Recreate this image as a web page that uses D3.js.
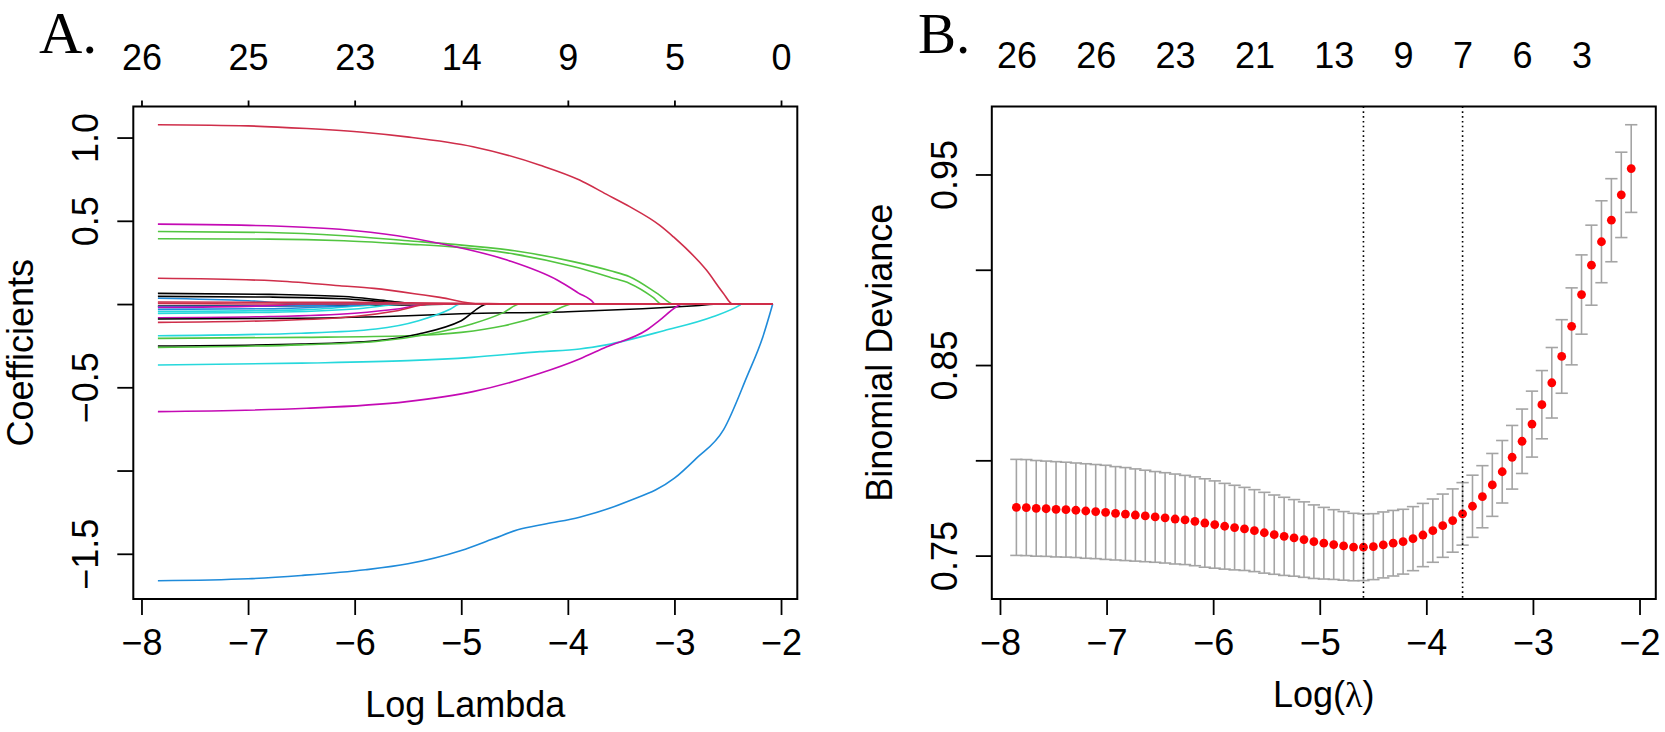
<!DOCTYPE html>
<html>
<head>
<meta charset="utf-8">
<script src="https://cdn.jsdelivr.net/npm/d3@7"></script>
<style>
  body { margin: 0; background: #fff; }
  svg { display: block; }
  text { font-family: "Liberation Sans", Arial, Helvetica, sans-serif; fill: #000; }
</style>
</head>
<body>
<div id="chart"></div>
<script>
// ---- Panel A: lasso coefficient paths, [log lambda, coefficient] ----
const pathRedTop   = [[-7.846,1.077],[-7.0,1.07],[-6.45,1.054],[-5.9,1.03],[-5.51,1.004],[-4.89,0.945],[-4.26,0.834],[-3.89,0.745],[-3.64,0.66],[-3.42,0.585],[-3.14,0.474],[-3.01,0.404],[-2.70,0.204],[-2.54,0.064],[-2.455,0],[-2.078,0]];
const pathMagTop   = [[-7.846,0.48],[-7.07,0.474],[-6.14,0.449],[-5.6,0.41],[-5.2,0.364],[-4.57,0.264],[-4.10,0.144],[-3.90,0.066],[-3.76,0.008],[-3.75,0],[-2.078,0]];
const pathGreen1   = [[-7.846,0.436],[-6.8,0.43],[-6.1,0.41],[-5.5,0.38],[-5.1,0.36],[-4.5,0.32],[-3.95,0.255],[-3.6,0.2],[-3.42,0.164],[-3.14,0.054],[-3.01,0],[-2.078,0]];
const pathGreen2   = [[-7.846,0.392],[-6.8,0.39],[-6.1,0.38],[-5.5,0.36],[-5.1,0.345],[-4.5,0.30],[-3.95,0.225],[-3.6,0.16],[-3.42,0.124],[-3.2,0.04],[-3.12,0],[-2.078,0]];
const pathRed2     = [[-7.846,0.155],[-6.76,0.14],[-6.14,0.11],[-5.82,0.094],[-5.35,0.054],[-5.2,0.04],[-4.82,0],[-2.078,0]];
const pathBlackA   = [[-7.846,0.064],[-6.8,0.058],[-6.1,0.045],[-5.7,0.02],[-5.35,0],[-2.078,0]];
const pathBlackB   = [[-7.846,0.046],[-6.8,0.042],[-6.1,0.032],[-5.7,0.012],[-5.4,0],[-2.078,0]];
const pathBlueS1   = [[-7.846,0.035],[-7.0,0.02],[-6.45,0],[-2.078,0]];
const pathRedZero  = [[-7.846,0.004],[-7.05,0],[-2.078,0]];
const pathBlueS2   = [[-7.846,-0.032],[-6.8,-0.028],[-6.2,-0.015],[-5.7,0],[-2.078,0]];
const pathCyanS1   = [[-7.846,-0.056],[-6.8,-0.05],[-6.0,-0.03],[-5.5,0],[-2.078,0]];
const pathMagS1    = [[-7.846,-0.082],[-6.8,-0.075],[-6.0,-0.055],[-5.6,-0.03],[-5.29,0],[-2.078,0]];
const pathBlackL   = [[-7.846,-0.09],[-6.5,-0.085],[-5.5,-0.07],[-5.0,-0.058],[-4.0,-0.046],[-3.3,-0.028],[-2.8,-0.01],[-2.57,0],[-2.078,0]];
const pathRedS1    = [[-7.846,-0.11],[-6.8,-0.10],[-6.0,-0.075],[-5.6,-0.04],[-5.29,0],[-2.078,0]];
const pathCyanM    = [[-7.846,-0.19],[-6.5,-0.175],[-5.8,-0.15],[-5.4,-0.1],[-5.1,-0.03],[-5.01,0],[-2.078,0]];
const pathGreen3   = [[-7.846,-0.206],[-6.5,-0.20],[-5.5,-0.19],[-5.0,-0.17],[-4.6,-0.13],[-4.2,-0.06],[-3.95,0],[-2.078,0]];
const pathBlackM   = [[-7.846,-0.252],[-6.5,-0.24],[-5.8,-0.22],[-5.4,-0.18],[-5.0,-0.10],[-4.75,0],[-2.078,0]];
const pathGreen4   = [[-7.846,-0.26],[-6.5,-0.245],[-5.8,-0.225],[-5.3,-0.18],[-4.9,-0.12],[-4.6,-0.05],[-4.45,0],[-2.078,0]];
const pathCyanL    = [[-7.846,-0.366],[-6.5,-0.355],[-5.5,-0.34],[-4.9,-0.32],[-4.26,-0.286],[-3.89,-0.27],[-3.64,-0.245],[-3.1,-0.16],[-2.64,-0.076],[-2.39,-0.008],[-2.37,0],[-2.078,0]];
const pathMagBig   = [[-7.846,-0.646],[-6.45,-0.626],[-5.51,-0.586],[-4.89,-0.526],[-4.26,-0.416],[-3.89,-0.33],[-3.64,-0.258],[-3.26,-0.156],[-3.14,-0.098],[-2.98,-0.016],[-2.93,0],[-2.078,0]];
const pathBlueBig  = [[-7.846,-1.662],[-7.0,-1.65],[-6.5,-1.63],[-5.9,-1.596],[-5.5,-1.56],[-5.0,-1.48],[-4.7,-1.41],[-4.47,-1.356],[-4.2,-1.32],[-3.89,-1.28],[-3.44,-1.186],[-3.0,-1.046],[-2.8,-0.93],[-2.54,-0.756],[-2.32,-0.436],[-2.17,-0.196],[-2.078,0]];
const pathBlackS   = [[-7.846,-0.012],[-6.5,-0.01],[-5.5,-0.005],[-4.9,0],[-2.078,0]];
const pathRedS2    = [[-7.846,0.012],[-6.0,0.01],[-5.0,0.005],[-4.3,0],[-2.078,0]];
const pathBlueS3   = [[-7.846,-0.015],[-6.5,-0.01],[-5.8,0],[-2.078,0]];
const pathCyanS2   = [[-7.846,-0.045],[-6.5,-0.035],[-5.6,0],[-2.078,0]];
const pathMagS2    = [[-7.846,-0.02],[-6.9,-0.012],[-6.4,0],[-2.078,0]];

const coefPaths = [pathBlackS, pathBlueS3, pathCyanS2, pathMagS2, pathBlackA, pathBlackB, pathBlueS1,
  pathBlueS2, pathCyanS1, pathMagS1, pathBlackL, pathRedS1, pathCyanM, pathGreen3, pathBlackM, pathGreen4,
  pathCyanL, pathMagBig, pathBlueBig, pathGreen1, pathGreen2, pathMagTop, pathRed2, pathRedS2, pathRedTop, pathRedZero];
const coefColorKeys = ["black","blue","cyan","magenta","black","black","blue",
  "blue","cyan","magenta","black","red","cyan","green","black","green",
  "cyan","magenta","blue","green","green","magenta","red","red","red","red"];

const coefXTicks = [-8, -7, -6, -5, -4, -3, -2];
const coefTopDf = [26, 25, 23, 14, 9, 5, 0];
const coefYTicks = [-1.5, -1.0, -0.5, 0, 0.5, 1.0];
const coefYLabels = ["-1.5", "", "-0.5", "", "0.5", "1.0"];

// ---- Panel B: cross-validated binomial deviance ----
const cvLogLambda = [-7.846,-7.753,-7.660,-7.567,-7.474,-7.381,-7.288,-7.195,-7.102,-7.009,
  -6.916,-6.823,-6.730,-6.637,-6.544,-6.451,-6.357,-6.264,-6.171,-6.078,
  -5.985,-5.892,-5.799,-5.706,-5.613,-5.520,-5.427,-5.334,-5.241,-5.148,
  -5.055,-4.962,-4.869,-4.776,-4.683,-4.590,-4.497,-4.404,-4.311,-4.218,
  -4.125,-4.032,-3.939,-3.846,-3.753,-3.660,-3.567,-3.474,-3.381,-3.288,
  -3.195,-3.102,-3.009,-2.916,-2.823,-2.730,-2.637,-2.544,-2.451,-2.357,
  -2.264,-2.171,-2.078];
const cvMean = [0.7753,0.7752,0.7748,0.7746,0.7743,0.7741,0.7738,0.7734,0.7731,0.7727,
  0.7722,0.7718,0.7713,0.7708,0.7703,0.7698,0.7692,0.7687,0.7680,0.7671,
  0.7663,0.7654,0.7647,0.7640,0.7631,0.7620,0.7610,0.7601,0.7593,0.7584,
  0.7573,0.7565,0.7558,0.7551,0.7545,0.7544,0.7547,0.7556,0.7565,0.7573,
  0.7589,0.7608,0.7631,0.7657,0.7684,0.7719,0.7759,0.7809,0.7871,0.7940,
  0.8016,0.8100,0.8190,0.8292,0.8407,0.8545,0.8703,0.8870,0.9024,0.9147,
  0.9260,0.9393,0.9531];
const cvSd = [0.0252,0.0252,0.0251,0.0250,0.0250,0.0249,0.0248,0.0248,0.0247,0.0247,
  0.0245,0.0244,0.0242,0.0240,0.0238,0.0237,0.0236,0.0234,0.0233,0.0232,
  0.0229,0.0225,0.0222,0.0218,0.0215,0.0212,0.0208,0.0205,0.0201,0.0198,
  0.0193,0.0188,0.0183,0.0180,0.0177,0.0175,0.0173,0.0173,0.0172,0.0170,
  0.0168,0.0166,0.0166,0.0166,0.0166,0.0164,0.0163,0.0163,0.0165,0.0164,
  0.0167,0.0169,0.0173,0.0179,0.0185,0.0193,0.0202,0.0208,0.0210,0.0215,
  0.0218,0.0224,0.0230];
const cvLambdaMin = -4.590;
const cvLambda1se = -3.660;
const cvTopLambda = [-7.846,-7.102,-6.357,-5.613,-4.869,-4.218,-3.660,-3.102,-2.544];
const cvTopDf = [26, 26, 23, 21, 13, 9, 7, 6, 3];
const cvXTicks = [-8, -7, -6, -5, -4, -3, -2];
const cvYTicks = [0.75, 0.80, 0.85, 0.90, 0.95];
const cvYLabels = ["0.75", "", "0.85", "", "0.95"];

// R default palette, slightly deepened to match the printed figure
const palette = { black: "#000000", red: "#CF2E4A", green: "#52C540", blue: "#1F8BDA", cyan: "#26D8DC", magenta: "#C40AB4" };

const width = 1665, height = 732;
const boxA = { left: 133.3, right: 797.3, top: 106.5, bottom: 599 };
const boxB = { left: 991.8, right: 1655.8, top: 106.5, bottom: 599 };
const fontSize = 36;

const svg = d3.select("#chart").append("svg")
  .attr("width", width)
  .attr("height", height)
  .attr("viewBox", `0 0 ${width} ${height}`);
svg.append("rect").attr("width", width).attr("height", height).attr("fill", "#fff");

// like R's default xaxs/yaxs = "r": extend the data range by 4% each side
function rDomain(vals) {
  const [a, b] = d3.extent(vals);
  const pad = (b - a) * 0.04;
  return [a - pad, b + pad];
}

function styleAxis(g, sw) {
  g.select(".domain").remove();
  g.selectAll(".tick line").attr("stroke", "#000").attr("stroke-width", sw);
  g.selectAll(".tick text")
    .attr("fill", "#000")
    .style("font-size", fontSize + "px")
    .style("font-family", '"Liberation Sans", Arial, sans-serif');
}

function drawFrame(box) {
  svg.append("rect")
    .attr("x", box.left).attr("y", box.top)
    .attr("width", box.right - box.left).attr("height", box.bottom - box.top)
    .attr("fill", "none").attr("stroke", "#000").attr("stroke-width", 2);
}

function drawBottomAxis(x, box, ticks) {
  const g = svg.append("g").attr("transform", `translate(0,${box.bottom})`)
    .call(d3.axisBottom(x).tickValues(ticks).tickSize(16).tickFormat(d => d3.format("d")(d).replace("-", "\u2212")));
  styleAxis(g, 1.8);
  g.selectAll(".tick text").attr("y", 56).attr("dy", null);
}

function drawLeftAxis(y, box, ticks, labels) {
  const g = svg.append("g").attr("transform", `translate(${box.left},0)`)
    .call(d3.axisLeft(y).tickValues(ticks).tickSize(16).tickFormat((d, i) => labels[i].replace("-", "\u2212")));
  styleAxis(g, 1.8);
  g.selectAll(".tick text")
    .attr("x", 0).attr("y", 0).attr("dy", null)
    .attr("text-anchor", "middle")
    .attr("transform", "translate(-35,0) rotate(-90)");
}

function drawTopAxis(x, box, ticks, labels, tickLen, baseline) {
  const g = svg.append("g").attr("transform", `translate(0,${box.top})`)
    .call(d3.axisTop(x).tickValues(ticks).tickSize(tickLen).tickFormat((d, i) => labels[i]));
  styleAxis(g, 1.8);
  if (tickLen === 0) g.selectAll(".tick line").remove();
  g.selectAll(".tick text").attr("y", baseline - box.top).attr("dy", null);
}

function drawTitles(box, xTitleBaseline, yTitle, xTitleFn) {
  const cx = (box.left + box.right) / 2, cy = (box.top + box.bottom) / 2;
  svg.append("text")
    .attr("transform", `translate(${box.left - 100},${cy}) rotate(-90)`)
    .attr("text-anchor", "middle")
    .style("font-size", fontSize + "px")
    .text(yTitle);
  const t = svg.append("text")
    .attr("x", cx).attr("y", xTitleBaseline)
    .attr("text-anchor", "middle")
    .style("font-size", fontSize + "px");
  xTitleFn(t);
}

// ---------- Panel A ----------
(function drawCoefPanel() {
  const allX = coefPaths.flatMap(p => p.map(d => d[0]));
  const allY = coefPaths.flatMap(p => p.map(d => d[1]));
  const x = d3.scaleLinear().domain(rDomain(allX)).range([boxA.left, boxA.right]);
  const y = d3.scaleLinear().domain(rDomain(allY)).range([boxA.bottom, boxA.top]);

  const line = d3.line()
    .x(d => x(d[0]))
    .y(d => y(d[1]))
    .curve(d3.curveMonotoneX);

  svg.append("g").attr("class", "coef-paths")
    .selectAll("path")
    .data(coefPaths)
    .join("path")
    .attr("d", line)
    .attr("fill", "none")
    .attr("stroke", (d, i) => palette[coefColorKeys[i]])
    .attr("stroke-width", 1.6)
    .attr("stroke-linejoin", "round");

  drawFrame(boxA);
  drawBottomAxis(x, boxA, coefXTicks);
  drawLeftAxis(y, boxA, coefYTicks, coefYLabels);
  drawTopAxis(x, boxA, coefXTicks, coefTopDf, 6, 70);
  drawTitles(boxA, 717, "Coefficients", t => t.text("Log Lambda"));

  svg.append("text")
    .attr("x", 39).attr("y", 53)
    .style("font-family", '"Liberation Serif", "Times New Roman", serif')
    .style("font-size", "60px")
    .text("A.");
})();

// ---------- Panel B ----------
(function drawCvPanel() {
  const upper = cvMean.map((m, i) => m + cvSd[i]);
  const lower = cvMean.map((m, i) => m - cvSd[i]);
  const x = d3.scaleLinear().domain(rDomain(cvLogLambda)).range([boxB.left, boxB.right]);
  const y = d3.scaleLinear().domain(rDomain(upper.concat(lower))).range([boxB.bottom, boxB.top]);
  const xExt = d3.extent(cvLogLambda);
  const barw = (xExt[1] - xExt[0]) * 0.01;

  const bars = svg.append("g").attr("class", "error-bars")
    .attr("stroke", "#A4A4A4").attr("stroke-width", 1.6);
  cvLogLambda.forEach((lam, i) => {
    bars.append("line").attr("x1", x(lam)).attr("x2", x(lam)).attr("y1", y(upper[i])).attr("y2", y(lower[i]));
    bars.append("line").attr("x1", x(lam - barw)).attr("x2", x(lam + barw)).attr("y1", y(upper[i])).attr("y2", y(upper[i]));
    bars.append("line").attr("x1", x(lam - barw)).attr("x2", x(lam + barw)).attr("y1", y(lower[i])).attr("y2", y(lower[i]));
  });

  svg.append("g").attr("class", "cv-points")
    .selectAll("circle")
    .data(cvMean)
    .join("circle")
    .attr("cx", (d, i) => x(cvLogLambda[i]))
    .attr("cy", d => y(d))
    .attr("r", 4.4)
    .attr("fill", "#FF0000");

  svg.append("g").attr("class", "lambda-lines")
    .selectAll("line")
    .data([cvLambdaMin, cvLambda1se])
    .join("line")
    .attr("x1", d => x(d)).attr("x2", d => x(d))
    .attr("y1", boxB.top).attr("y2", boxB.bottom)
    .attr("stroke", "#000").attr("stroke-width", 1.6)
    .attr("stroke-dasharray", "1.6,3.2");

  drawFrame(boxB);
  drawBottomAxis(x, boxB, cvXTicks);
  drawLeftAxis(y, boxB, cvYTicks, cvYLabels);
  drawTopAxis(x, boxB, cvTopLambda, cvTopDf, 0, 68);
  drawTitles(boxB, 707, "Binomial Deviance", t => {
    t.append("tspan").text("Log(");
    t.append("tspan").style("font-family", '"Liberation Serif", "Times New Roman", serif').text("\u03BB");
    t.append("tspan").text(")");
  });

  svg.append("text")
    .attr("x", 918).attr("y", 53)
    .style("font-family", '"Liberation Serif", "Times New Roman", serif')
    .style("font-size", "57px")
    .text("B.");
})();
</script>
</body>
</html>
